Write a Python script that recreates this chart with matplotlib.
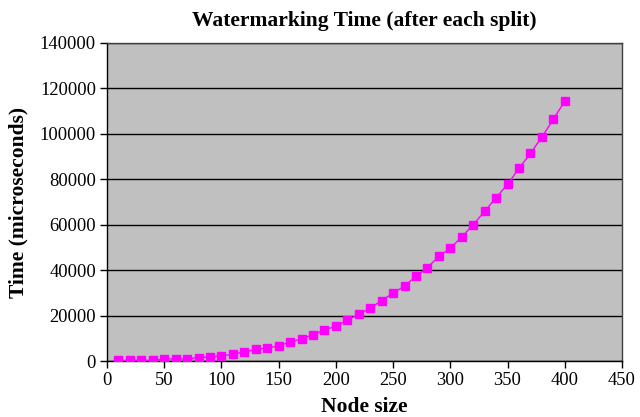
import matplotlib
matplotlib.use("Agg")
import matplotlib.pyplot as plt
from matplotlib.ticker import MultipleLocator

node_size = [10, 20, 30, 40, 50, 60, 70, 80, 90, 100,
             110, 120, 130, 140, 150, 160, 170, 180, 190, 200,
             210, 220, 230, 240, 250, 260, 270, 280, 290, 300,
             310, 320, 330, 340, 350, 360, 370, 380, 390, 400]
time_us = [300, 300, 300, 300, 900, 900, 900, 1500, 1800, 2300,
           2900, 4100, 5100, 5700, 6600, 8400, 9700, 11600, 13600, 15400,
           18000, 20600, 23300, 26600, 29900, 33000, 37300, 41100, 46100, 49700,
           54600, 60000, 65900, 71900, 77800, 84800, 91400, 98600, 106400, 114400]

title = "Watermarking Time (after each split)"
xlabel = "Node size"
ylabel = "Time (microseconds)"

plt.rcParams['font.family'] = ['Liberation Serif', 'DejaVu Serif']

fig = plt.figure(figsize=(6.4, 4.17), dpi=100)
ax = fig.add_axes([107/640, 1-361/417, (622-107)/640, (361-43)/417])
ax.set_facecolor('#C0C0C0')

ax.plot(node_size, time_us, color='#FF00FF', linewidth=1.0, marker='s',
        markersize=5.5, markerfacecolor='#FF00FF', markeredgecolor='#FF00FF', zorder=3)

ax.set_xlim(0, 450)
ax.set_ylim(0, 140000)
ax.xaxis.set_major_locator(MultipleLocator(50))
ax.yaxis.set_major_locator(MultipleLocator(20000))
ax.yaxis.grid(True, color='black', linewidth=1.0)
ax.set_axisbelow(True)

for s in ax.spines.values():
    s.set_color('#404040')
    s.set_linewidth(1.0)
ax.spines['left'].set_color('black')
ax.spines['bottom'].set_color('black')

ax.tick_params(axis='both', direction='out', length=5, width=1, labelsize=13.3, colors='black')
ax.tick_params(axis='x', pad=3)
ax.tick_params(axis='y', pad=3)

ax.set_title(title, fontsize=15.5, fontweight='bold', pad=12)
ax.set_xlabel(xlabel, fontsize=15.5, fontweight='bold', labelpad=6)
ax.set_ylabel(ylabel, fontsize=15.5, fontweight='bold', labelpad=8)

fig.savefig("out.png", dpi=100)
